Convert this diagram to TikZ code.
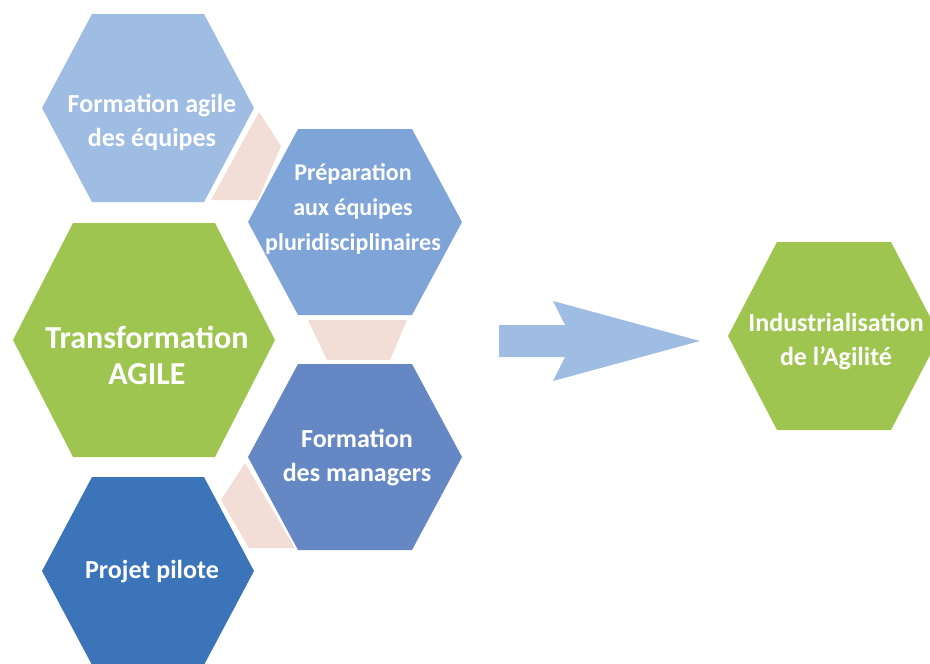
\documentclass[tikz,border=0pt]{standalone}
\usepackage{fontspec}
\setmainfont{Carlito}
\usetikzlibrary{calc}

\definecolor{bluelight}{HTML}{9FBCE3}
\definecolor{bluemid}{HTML}{7FA4D7}
\definecolor{bluemgr}{HTML}{6588C5}
\definecolor{bluedark}{HTML}{3C74B9}
\definecolor{agilegreen}{HTML}{9DC54F}
\definecolor{linkpink}{HTML}{F2DED6}

% hexagon: centre, half width, half top edge, half height, colour
\newcommand{\hexcell}[5]{%
  \fill[#5, shift={#1}] (-#2,0) -- (-#3,-#4) -- (#3,-#4) -- (#2,0) -- (#3,#4) -- (-#3,#4) -- cycle;}

\tikzset{
  celltext/.style={text=white, align=center, inner sep=0pt,
    font=\bfseries\fontsize{26}{34}\selectfont},
  bigtext/.style={celltext, font=\bfseries\fontsize{32}{36}\selectfont}
}

\begin{document}
\begin{tikzpicture}[x=1pt, y=-1pt]

  \useasboundingbox (0,0) rectangle (930,664);
  \clip (0,0) rectangle (930,664);

  \coordinate (h1) at (148,108);
  \coordinate (h2) at (355,222);
  \coordinate (h3) at (144,340);
  \coordinate (h4) at (355,457);
  \coordinate (h5) at (148,571);
  \coordinate (h6) at (834,336);

  % pink links
  \fill[linkpink] (259,112) -- (281,146) -- (258,200) -- (211,200) -- cycle;
  \fill[linkpink] (308,320) -- (407,320) -- (390,360) -- (327,360) -- cycle;
  \fill[linkpink] (245,463) -- (295,548) -- (249,548) -- (221,500) -- cycle;

  \hexcell{(h1)}{106}{56}{94}{bluelight}
  \hexcell{(h2)}{107}{57}{93}{bluemid}
  \hexcell{(h3)}{131}{71}{117}{agilegreen}
  \hexcell{(h4)}{107}{57}{93}{bluemgr}
  \hexcell{(h5)}{106}{56}{94}{bluedark}
  \hexcell{(h6)}{106}{57}{94}{agilegreen}

  \node[celltext] (t1) at (152,122) {Formation agile\\des équipes};
  \node[celltext, font=\bfseries\fontsize{24}{35}\selectfont] (t2) at (353,209) {Préparation\\aux équipes\\pluridisciplinaires};
  \node[bigtext] (t3) at (147,355) {Transformation\\AGILE};
  \node[celltext] (t4) at (357,458) {Formation\\des managers};
  \node[celltext] (t5) at (152,572) {Projet pilote};
  \node[celltext] (t6) at (836,342) {Industrialisation\\de l'Agilité};

  % big arrow
  \coordinate (tail) at (499,341);
  \coordinate (tip) at (700,341);
  \fill[bluelight] ($(tail)+(0,-16)$) -- (565,325) -- (553,301) -- (tip) -- (553,381) -- (565,357) -- ($(tail)+(0,16)$) -- cycle;

\end{tikzpicture}
\end{document}
